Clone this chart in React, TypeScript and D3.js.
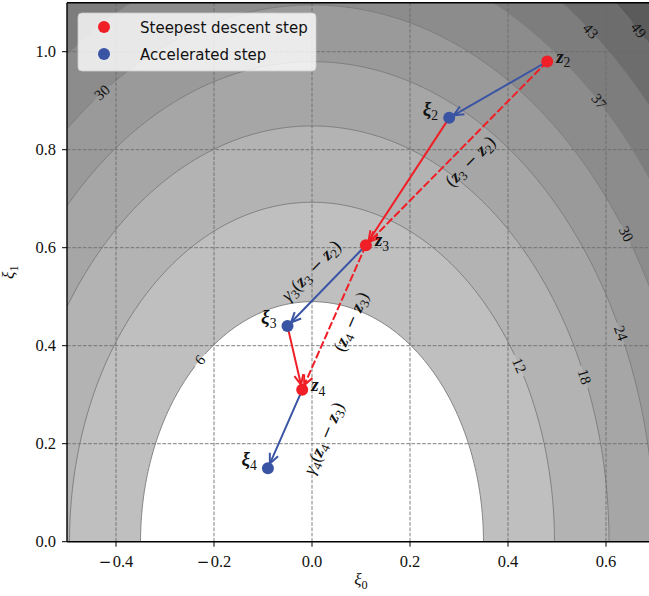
import React from 'react';
import * as d3 from 'd3';

const W = 649;
const H = 596;

// Objective f(ξ0, ξ1) = COEF_X0·ξ0² + COEF_X1·ξ1²
const COEF_X0 = 49;
const COEF_X1 = 25;

const contourLevels = [6, 12, 18, 24, 30, 37, 43, 49];
const contourLabels = ['6', '12', '18', '24', '30', '37', '43', '49'];
// band i spans (level[i-1], level[i]]; last band is everything above the top level
const bandColors = ['#ffffff', '#bfbfbf', '#b3b3b3', '#a6a6a6', '#9a9a9a', '#8c8c8c', '#7d7d7d', '#6d6d6d', '#5b5b5b'];

const xTicks = [-0.4, -0.2, 0.0, 0.2, 0.4, 0.6];
const yTicks = [0.0, 0.2, 0.4, 0.6, 0.8, 1.0];

const zIterates = [
  { k: 2, x0: 0.48, x1: 0.98 },
  { k: 3, x0: 0.11, x1: 0.605 },
  { k: 4, x0: -0.02, x1: 0.31 },
];
const xiIterates = [
  { k: 2, x0: 0.28, x1: 0.865 },
  { k: 3, x0: -0.05, x1: 0.44 },
  { k: 4, x0: -0.09, x1: 0.15 },
];

const legendItems = ['Steepest descent step', 'Accelerated step'];

// where each inline contour label sits (approximate; snapped onto its contour)
const contourLabelSpots = [
  { level: 30, x0: -0.433, x1: 0.926 },
  { level: 43, x0: 0.563, x1: 1.032 },
  { level: 49, x0: 0.663, x1: 1.038 },
  { level: 37, x0: 0.582, x1: 0.893 },
  { level: 30, x0: 0.643, x1: 0.63 },
  { level: 24, x0: 0.631, x1: 0.426 },
  { level: 18, x0: 0.555, x1: 0.336 },
  { level: 12, x0: 0.422, x1: 0.359 },
  { level: 6, x0: -0.231, x1: 0.375 },
];

const RED = '#f01e26';
const BLUE = '#3a54a4';
const SERIF = "'Liberation Serif', 'DejaVu Serif', serif";
const WIDE = "'DejaVu Serif', serif";
const SANS = "'DejaVu Sans', sans-serif";

type Style = 'n' | 'i' | 'bi' | 'sub' | 'op';
type Part = [string, Style];

const x = d3.scaleLinear().domain([-0.5, 0.7]).range([67, 655]);
const y = d3.scaleLinear().domain([0, 1.1]).range([541.7, 2.7]);

const plotL = x(-0.5);
const plotR = x(0.7);
const plotT = y(1.1);
const plotB = y(0);

function ellipsePath(level: number): string {
  const a = Math.sqrt(level / COEF_X0);
  const b = Math.sqrt(level / COEF_X1);
  const thetas = d3.range(0, 361, 1).map((d) => (d * Math.PI) / 180);
  const line = d3
    .line<number>()
    .x((t) => x(a * Math.cos(t)))
    .y((t) => y(b * Math.sin(t)));
  return (line(thetas) || '') + 'Z';
}

function MathText(props: { parts: Part[]; size: number; [k: string]: any }) {
  const { parts, size, ...rest } = props;
  let inSub = false;
  const kids = parts.map(([t, s], i) => {
    let dy: number | undefined;
    if (s === 'sub' && !inSub) {
      dy = size * 0.26;
      inSub = true;
    } else if (s !== 'sub' && inSub) {
      dy = -size * 0.26;
      inSub = false;
    }
    return (
      <tspan
        key={i}
        dy={dy}
        fontFamily={s === 'op' ? WIDE : undefined}
        fontSize={s === 'sub' ? size * 0.72 : s === 'op' ? size * 0.9 : size}
        fontStyle={s === 'i' || s === 'bi' ? 'italic' : 'normal'}
        fontWeight={s === 'bi' ? 'bold' : 'normal'}
        style={{ whiteSpace: 'pre' }}
      >
        {t}
      </tspan>
    );
  });
  return (
    <text fontFamily={SERIF} fontSize={size} {...rest}>
      {kids}
    </text>
  );
}

function Arrow(props: {
  from: { x0: number; x1: number };
  to: { x0: number; x1: number };
  color: string;
  dashed?: boolean;
}) {
  const { from, to, color, dashed } = props;
  const ax = x(from.x0);
  const ay = y(from.x1);
  const bx0 = x(to.x0);
  const by0 = y(to.x1);
  const len = Math.hypot(bx0 - ax, by0 - ay);
  const ux = (bx0 - ax) / len;
  const uy = (by0 - ay) / len;
  const shrink = 5;
  const bx = bx0 - ux * shrink;
  const by = by0 - uy * shrink;
  const hl = 10;
  const hw = 4.5;
  const h1 = [bx - ux * hl - uy * hw, by - uy * hl + ux * hw];
  const h2 = [bx - ux * hl + uy * hw, by - uy * hl - ux * hw];
  return (
    <g stroke={color} strokeWidth={2} fill="none" strokeLinecap="butt">
      <line x1={ax} y1={ay} x2={bx} y2={by} strokeDasharray={dashed ? '8,2.5' : undefined} />
      <polyline points={`${h1[0]},${h1[1]} ${bx},${by} ${h2[0]},${h2[1]}`} strokeLinejoin="miter" />
    </g>
  );
}

function SegmentLabel(props: {
  from: { x0: number; x1: number };
  to: { x0: number; x1: number };
  parts: Part[];
  normal: number;
  along?: number;
}) {
  const { from, to, parts, normal, along = 0 } = props;
  const ax = x(from.x0);
  const ay = y(from.x1);
  const bx = x(to.x0);
  const by = y(to.x1);
  let ang = (Math.atan2(by - ay, bx - ax) * 180) / Math.PI;
  if (ang > 90) ang -= 180;
  if (ang <= -90) ang += 180;
  const r = (ang * Math.PI) / 180;
  const dir = [Math.cos(r), Math.sin(r)];
  const up = [Math.sin(r), -Math.cos(r)];
  const cx = (ax + bx) / 2 + up[0] * normal + dir[0] * along;
  const cy = (ay + by) / 2 + up[1] * normal + dir[1] * along;
  return (
    <MathText
      parts={parts}
      size={18}
      textAnchor="middle"
      dominantBaseline="central"
      transform={`translate(${cx},${cy}) rotate(${ang})`}
      fill="#111"
    />
  );
}

function TickText(props: { value: number; [k: string]: any }) {
  const { value, ...rest } = props;
  const s = d3.format('.1f')(Math.abs(value));
  return (
    <text {...rest}>
      {value < 0 ? <tspan fontFamily={WIDE} fontSize={15}>−</tspan> : null}
      <tspan dx={value < 0 ? 1.5 : undefined}>{s}</tspan>
    </text>
  );
}

export default function App() {
  const bands = contourLevels
    .map((lv, i) => ({ lv, color: bandColors[i] }))
    .reverse();

  // inline contour labels: snap onto the level curve and follow its tangent
  const labelMarks = contourLabelSpots.map((s, i) => {
    const f = COEF_X0 * s.x0 * s.x0 + COEF_X1 * s.x1 * s.x1;
    const t = Math.sqrt(s.level / f);
    const p0 = s.x0 * t;
    const p1 = s.x1 * t;
    const sx = x(1) - x(0);
    const sy = y(1) - y(0);
    const gx = (2 * COEF_X0 * p0) / sx;
    const gy = (2 * COEF_X1 * p1) / sy;
    let ang = (Math.atan2(gx, -gy) * 180) / Math.PI;
    if (ang > 90) ang -= 180;
    if (ang <= -90) ang += 180;
    const text = contourLabels[contourLevels.indexOf(s.level)];
    return { key: i, px: x(p0), py: y(p1), ang, text, w: text.length * 7.5 + 8 };
  });

  const zBy = (k: number) => zIterates.find((d) => d.k === k)!;
  const xiBy = (k: number) => xiIterates.find((d) => d.k === k)!;

  return (
    <svg
      width={W}
      height={H}
      viewBox={`0 0 ${W} ${H}`}
      style={{ position: 'absolute', left: 0, top: 0, background: '#fff' }}
    >
      <defs>
        <clipPath id="plotClip">
          <rect x={plotL} y={plotT} width={plotR - plotL} height={plotB - plotT} />
        </clipPath>
        <mask id="labelGaps" maskUnits="userSpaceOnUse" x={0} y={0} width={W} height={H}>
          <rect x={0} y={0} width={W} height={H} fill="#fff" />
          {labelMarks.map((m) => (
            <rect
              key={m.key}
              x={-m.w / 2}
              y={-7}
              width={m.w}
              height={14}
              fill="#000"
              transform={`translate(${m.px},${m.py}) rotate(${m.ang})`}
            />
          ))}
        </mask>
      </defs>

      <g clipPath="url(#plotClip)">
        {/* filled contour bands */}
        <rect x={plotL} y={plotT} width={plotR - plotL} height={plotB - plotT} fill={bandColors[bandColors.length - 1]} />
        {bands.map((b) => (
          <path key={b.lv} d={ellipsePath(b.lv)} fill={b.color} />
        ))}
        {/* contour lines */}
        <g mask="url(#labelGaps)">
          {contourLevels.map((lv) => (
            <path key={lv} d={ellipsePath(lv)} fill="none" stroke="#7c7c7c" strokeWidth={0.9} />
          ))}
        </g>
        {labelMarks.map((m) => (
          <text
            key={m.key}
            transform={`translate(${m.px},${m.py}) rotate(${m.ang})`}
            textAnchor="middle"
            dominantBaseline="central"
            fontFamily={SERIF}
            fontSize={15}
            fill="#111"
          >
            {m.text}
          </text>
        ))}
        {/* grid */}
        <g stroke="#6a6a6a" strokeWidth={1} strokeDasharray="3.7,1.6" opacity={0.85}>
          {xTicks.map((t) => (
            <line key={'gx' + t} x1={x(t)} x2={x(t)} y1={plotT} y2={plotB} />
          ))}
          {yTicks.map((t) => (
            <line key={'gy' + t} x1={plotL} x2={plotR} y1={y(t)} y2={y(t)} />
          ))}
        </g>

        {/* iterates and steps */}
        {zIterates.slice(0, -1).map((z) => (
          <Arrow key={'d' + z.k} from={z} to={zBy(z.k + 1)} color={RED} dashed />
        ))}
        {xiIterates.slice(0, -1).map((xi) => (
          <Arrow key={'s' + xi.k} from={xi} to={zBy(xi.k + 1)} color={RED} />
        ))}
        {zIterates.map((z) => (
          <Arrow key={'a' + z.k} from={z} to={xiBy(z.k)} color={BLUE} />
        ))}
        {zIterates.map((z) => (
          <circle key={'zc' + z.k} cx={x(z.x0)} cy={y(z.x1)} r={6} fill={RED} />
        ))}
        {xiIterates.map((p) => (
          <circle key={'xc' + p.k} cx={x(p.x0)} cy={y(p.x1)} r={6} fill={BLUE} />
        ))}

        {zIterates.map((z) => (
          <MathText
            key={'zl' + z.k}
            parts={[['z', 'bi'], [String(z.k), 'sub']]}
            size={19}
            x={x(z.x0) + 9}
            y={y(z.x1) + 1}
            fill="#111"
          />
        ))}
        {xiIterates.map((p) => (
          <MathText
            key={'xl' + p.k}
            parts={[['ξ', 'bi'], [String(p.k), 'sub']]}
            size={19}
            x={x(p.x0) - 11}
            y={y(p.x1) - 3}
            textAnchor="end"
            fill="#111"
          />
        ))}

        <SegmentLabel
          from={zBy(2)}
          to={zBy(3)}
          normal={-15}
          along={4}
          parts={[['(', 'n'], ['z', 'bi'], ['3', 'sub'], [' − ', 'op'], ['z', 'bi'], ['2', 'sub'], [')', 'n']]}
        />
        <SegmentLabel
          from={zBy(3)}
          to={xiBy(3)}
          normal={22}
          parts={[['γ', 'i'], ['3', 'sub'], ['(', 'n'], ['z', 'bi'], ['3', 'sub'], [' − ', 'op'], ['z', 'bi'], ['2', 'sub'], [')', 'n']]}
        />
        <SegmentLabel
          from={zBy(3)}
          to={zBy(4)}
          normal={-17}
          along={3}
          parts={[['(', 'n'], ['z', 'bi'], ['4', 'sub'], [' − ', 'op'], ['z', 'bi'], ['3', 'sub'], [')', 'n']]}
        />
        <SegmentLabel
          from={zBy(4)}
          to={xiBy(4)}
          normal={-39}
          along={7}
          parts={[['γ', 'i'], ['4', 'sub'], ['(', 'n'], ['z', 'bi'], ['4', 'sub'], [' − ', 'op'], ['z', 'bi'], ['3', 'sub'], [')', 'n']]}
        />

        {/* legend */}
        <g>
          <rect x={78} y={13} width={238} height={58} rx={4} fill="#ffffff" fillOpacity={0.8} stroke="#cccccc" strokeOpacity={0.8} />
          {legendItems.map((label, i) => (
            <g key={label}>
              <circle cx={104} cy={27 + i * 27} r={6} fill={i === 0 ? RED : BLUE} />
              <text x={140} y={33 + i * 27} fontFamily={SANS} fontSize={15} fill="#111">
                {label}
              </text>
            </g>
          ))}
        </g>
      </g>

      {/* frame */}
      <g stroke="#000" strokeWidth={1.4} fill="none">
        <line x1={plotL} x2={plotL} y1={plotT} y2={plotB} />
        <line x1={plotL} x2={plotR} y1={plotB} y2={plotB} />
        <line x1={plotL} x2={plotR} y1={plotT} y2={plotT} />
        <line x1={plotR} x2={plotR} y1={plotT} y2={plotB} />
      </g>

      {/* axes */}
      <g fontFamily={SERIF} fontSize={16.5} fill="#111">
        {xTicks.map((t) => (
          <g key={'xt' + t}>
            <line x1={x(t)} x2={x(t)} y1={plotB} y2={plotB + 5} stroke="#000" strokeWidth={1} />
            <TickText value={t} x={x(t)} y={567} textAnchor="middle" />
          </g>
        ))}
        {yTicks.map((t) => (
          <g key={'yt' + t}>
            <line x1={plotL - 5} x2={plotL} y1={y(t)} y2={y(t)} stroke="#000" strokeWidth={1} />
            <TickText value={t} x={56} y={y(t) + 5.5} textAnchor="end" />
          </g>
        ))}
      </g>
      <MathText
        parts={[['ξ', 'i'], ['0', 'sub']]}
        size={17}
        x={(plotL + plotR) / 2}
        y={585}
        textAnchor="middle"
        fill="#111"
      />
      <MathText
        parts={[['ξ', 'i'], ['1', 'sub']]}
        size={17}
        transform={`translate(14,${(plotT + plotB) / 2}) rotate(-90)`}
        textAnchor="middle"
        fill="#111"
      />
    </svg>
  );
}
